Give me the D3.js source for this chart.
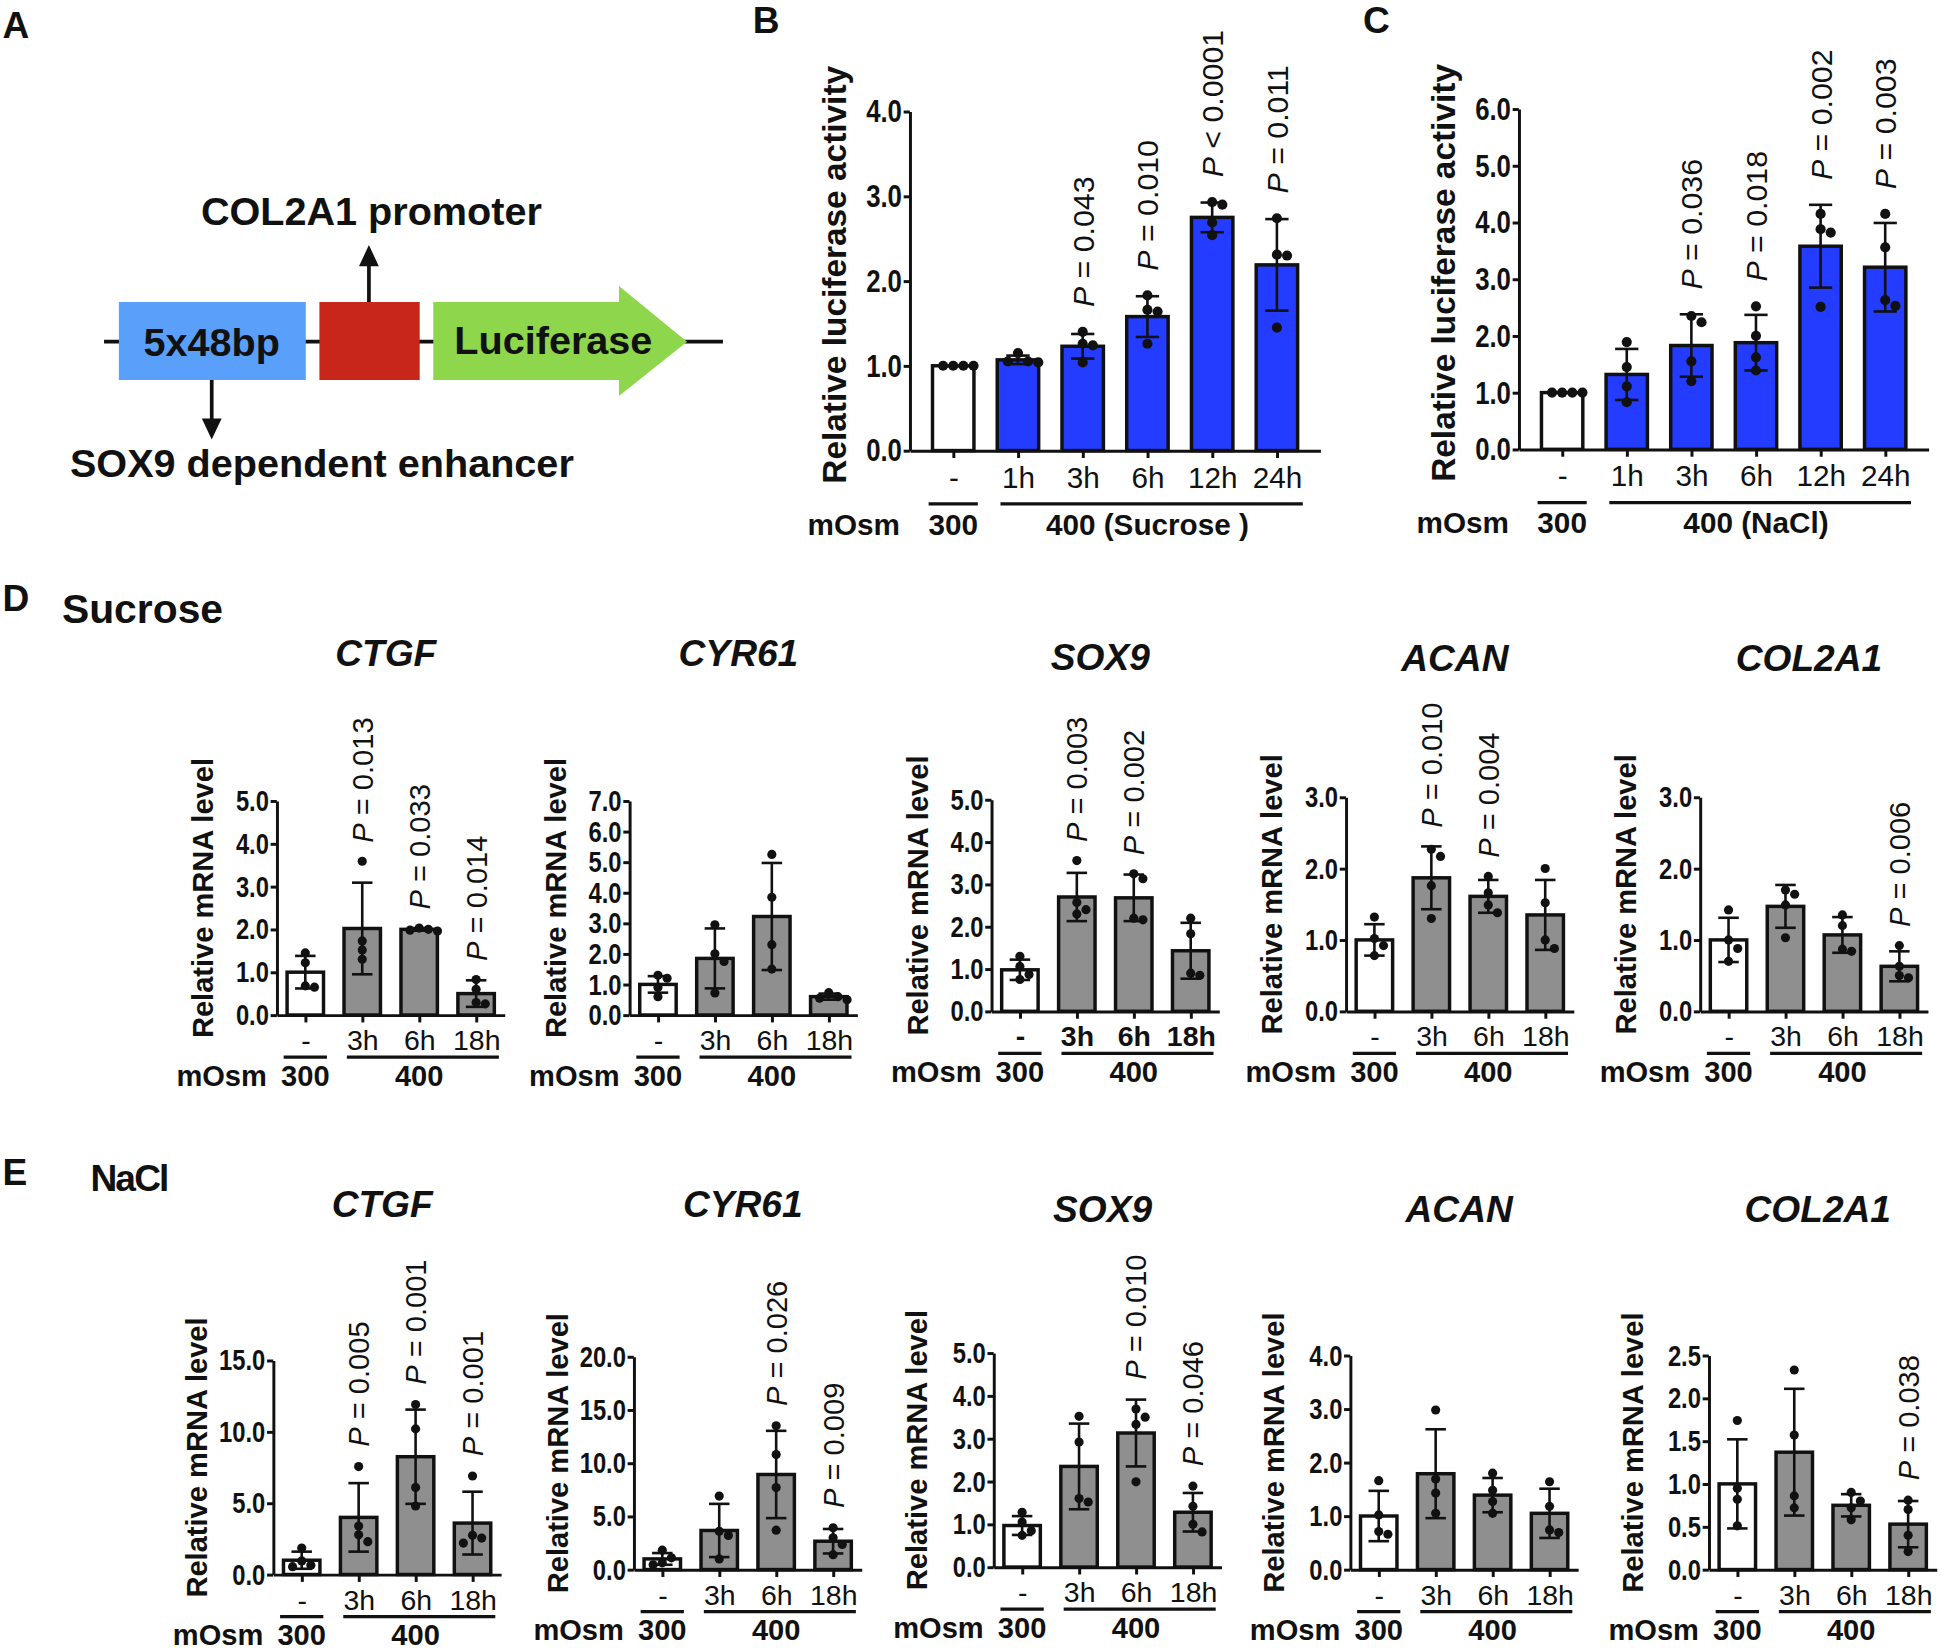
<!DOCTYPE html>
<html>
<head>
<meta charset="utf-8">
<script src="https://cdn.jsdelivr.net/npm/d3@7"></script>
<style>
  body { margin: 0; background: #fff; }
  svg { display: block; font-family: "Liberation Sans", Arial, Helvetica, sans-serif; }
</style>
</head>
<body>
<svg id="fig" width="1941" height="1650" viewBox="0 0 1568 1333"></svg>
<script>
// ---- categories ----
var catsLuc = ["-", "1h", "3h", "6h", "12h", "24h"];
var catsGene = ["-", "3h", "6h", "18h"];
var genes = ["CTGF", "CYR61", "SOX9", "ACAN", "COL2A1"];

// ---- B: luciferase, 400 mOsm sucrose ----
var lucSucroseMean = [1.0, 1.07, 1.23, 1.58, 2.75, 2.19];
var lucSucroseSD = [0.0, 0.05, 0.145, 0.24, 0.175, 0.54];
var lucSucrosePts = [[1, 1, 1, 1], [1.15, 1.05, 1.05, 1.04], [1.40, 1.26, 1.24, 1.04],
                     [1.83, 1.66, 1.64, 1.26], [2.93, 2.90, 2.69, 2.54], [2.74, 2.31, 2.30, 1.45]];
var lucSucroseP = [null, null, "= 0.043", "= 0.010", "< 0.0001", "= 0.011"];
var lucSucroseTicks = [0, 1, 2, 3, 4];

// ---- C: luciferase, 400 mOsm NaCl ----
var lucNaClMean = [1.0, 1.32, 1.83, 1.88, 3.58, 3.21];
var lucNaClSD = [0.0, 0.45, 0.55, 0.49, 0.73, 0.78];
var lucNaClPts = [[1, 1, 1, 1], [1.89, 1.45, 1.11, 0.83], [2.35, 2.24, 1.55, 1.20],
                  [2.52, 2.00, 1.62, 1.39], [4.15, 3.88, 3.82, 2.51], [4.15, 3.56, 2.63, 2.53]];
var lucNaClP = [null, null, "= 0.036", "= 0.018", "= 0.002", "= 0.003"];
var lucNaClTicks = [0, 1, 2, 3, 4, 5, 6];

// ---- D: sucrose mRNA ----
var sucCTGFMean = [1.0, 2.02, 2.0, 0.5];
var sucCTGFSD = [0.38, 1.07, 0.03, 0.31];
var sucCTGFPts = [[1.45, 1.22, 0.68, 0.65], [3.59, 1.73, 1.52, 1.30], [2.03, 2.0, 1.98, 1.96], [0.83, 0.60, 0.29, 0.26]];
var sucCTGFP = [null, "= 0.013", "= 0.033", "= 0.014"];
var sucCTGFTicks = [0, 1, 2, 3, 4, 5];

var sucCYR61Mean = [1.0, 1.85, 3.22, 0.6];
var sucCYR61SD = [0.27, 0.98, 1.75, 0.1];
var sucCYR61Pts = [[1.3, 1.2, 0.9, 0.6], [2.95, 2.0, 1.75, 0.72], [5.25, 3.85, 2.3, 1.5], [0.73, 0.6, 0.55, 0.5]];
var sucCYR61P = [null, null, null, null];
var sucCYR61Ticks = [0, 1, 2, 3, 4, 5, 6, 7];

var sucSOX9Mean = [0.98, 2.70, 2.68, 1.43];
var sucSOX9SD = [0.24, 0.57, 0.55, 0.66];
var sucSOX9Pts = [[1.3, 1.06, 0.87, 0.75], [3.56, 2.57, 2.4, 2.3], [3.25, 3.13, 2.2, 2.16], [2.2, 1.83, 0.9, 0.85]];
var sucSOX9P = [null, "= 0.003", "= 0.002", null];
var sucSOX9Ticks = [0, 1, 2, 3, 4, 5];

var sucACANMean = [1.0, 1.87, 1.61, 1.35];
var sucACANSD = [0.22, 0.44, 0.23, 0.49];
var sucACANPts = [[1.32, 1.02, 0.92, 0.78], [2.27, 2.17, 1.76, 1.30], [1.89, 1.66, 1.49, 1.38], [2.0, 1.52, 1.0, 0.88]];
var sucACANP = [null, "= 0.010", "= 0.004", null];
var sucACANTicks = [0, 1, 2, 3];

var sucCOL2A1Mean = [1.0, 1.47, 1.07, 0.63];
var sucCOL2A1SD = [0.31, 0.30, 0.25, 0.21];
var sucCOL2A1Pts = [[1.42, 1.0, 0.88, 0.7], [1.70, 1.64, 1.49, 1.03], [1.35, 1.2, 0.87, 0.84], [0.92, 0.63, 0.5, 0.47]];
var sucCOL2A1P = [null, null, null, "= 0.006"];
var sucCOL2A1Ticks = [0, 1, 2, 3];

// ---- E: NaCl mRNA ----
var naclCTGFMean = [1.0, 4.0, 8.25, 3.6];
var naclCTGFSD = [0.6, 2.4, 3.3, 2.2];
var naclCTGFPts = [[1.85, 0.95, 0.65, 0.55], [7.56, 3.4, 2.78, 2.3], [11.9, 10.2, 6.1, 4.8], [6.9, 2.75, 2.55, 2.2]];
var naclCTGFP = [null, "= 0.005", "= 0.001", "= 0.001"];
var naclCTGFTicks = [0, 5, 10, 15];

var naclCYR61Mean = [1.0, 3.67, 8.93, 2.66];
var naclCYR61SD = [0.55, 2.5, 4.1, 1.15];
var naclCYR61Pts = [[1.82, 1.1, 0.63, 0.45], [6.9, 3.6, 3.2, 1.0], [13.5, 10.8, 7.7, 3.7], [3.92, 2.98, 2.35, 1.4]];
var naclCYR61P = [null, null, "= 0.026", "= 0.009"];
var naclCYR61Ticks = [0, 5, 10, 15, 20];

var naclSOX9Mean = [0.97, 2.35, 3.13, 1.28];
var naclSOX9SD = [0.22, 1.0, 0.78, 0.45];
var naclSOX9Pts = [[1.28, 1.05, 0.85, 0.74], [3.52, 2.92, 1.6, 1.52], [3.69, 3.50, 3.33, 1.99], [1.89, 1.42, 1.0, 0.82]];
var naclSOX9P = [null, null, "= 0.010", "= 0.046"];
var naclSOX9Ticks = [0, 1, 2, 3, 4, 5];

var naclACANMean = [1.0, 1.79, 1.39, 1.05];
var naclACANSD = [0.47, 0.83, 0.32, 0.46];
var naclACANPts = [[1.66, 1.02, 0.71, 0.66], [2.98, 1.69, 1.43, 1.05], [1.8, 1.48, 1.27, 1.05], [1.64, 1.18, 0.74, 0.69]];
var naclACANP = [null, null, null, null];
var naclACANTicks = [0, 1, 2, 3, 4];

var naclCOL2A1Mean = [1.0, 1.37, 0.75, 0.53];
var naclCOL2A1SD = [0.52, 0.74, 0.13, 0.27];
var naclCOL2A1Pts = [[1.74, 0.95, 0.82, 0.51], [2.33, 1.57, 0.86, 0.72], [0.9, 0.8, 0.72, 0.58], [0.81, 0.7, 0.4, 0.21]];
var naclCOL2A1P = [null, null, null, "= 0.038"];
var naclCOL2A1Ticks = [0, 0.5, 1, 1.5, 2, 2.5];

var svg = d3.select("#fig");
var INK = "#111";
var BLUE = "#233cff", GREY = "#8f8f8f";

function swarm(vals, cx, y, r) {
    var placed = [];
    vals.slice().sort(function (a, b) { return b - a; }).forEach(function (v) {
        var py = y(v), px = cx, offs = [0, 1, -1, 2, -2, 3, -3];
        for (var k = 0; k < offs.length; k++) {
            px = cx + offs[k] * r * 2;
            var ok = placed.every(function (p) { return Math.hypot(p[0] - px, p[1] - py) >= r * 1.9; });
            if (ok) break;
        }
        placed.push([px, py]);
    });
    return placed;
}

function drawPanel(c) {
    var g = svg.append("g");
    var n = c.cats.length;
    var x = d3.scalePoint().domain(c.cats)
        .range([c.ax, c.ax + c.step * (n - 1 + 2 * c.pad)]).padding(c.pad);
    var xEnd = x.range()[1];
    var y = d3.scaleLinear().domain([0, c.ticks[c.ticks.length - 1]]).range([c.y0, c.y1]);
    var bw = c.step * 0.64, cap = c.step * 0.36;

    var rows = c.mean.map(function (m, i) {
        return { cat: c.cats[i], mean: m, sd: c.sd[i], pts: c.pts[i], p: c.pv[i], i: i };
    });

    g.selectAll(".bar").data(rows).join("rect")
        .attr("x", function (d) { return x(d.cat) - bw / 2; })
        .attr("y", function (d) { return y(d.mean); })
        .attr("width", bw)
        .attr("height", function (d) { return y(0) - y(d.mean); })
        .attr("fill", function (d) { return d.i === 0 ? "#fff" : c.fill; })
        .attr("stroke", INK).attr("stroke-width", 2.8);

    var eb = g.selectAll(".err").data(rows).join("g")
        .attr("stroke", INK).attr("stroke-width", 2.1);
    eb.append("line")
        .attr("x1", function (d) { return x(d.cat); }).attr("x2", function (d) { return x(d.cat); })
        .attr("y1", function (d) { return y(d.mean + d.sd); }).attr("y2", function (d) { return y(d.mean - d.sd); });
    [1, -1].forEach(function (s) {
        eb.append("line")
            .attr("x1", function (d) { return x(d.cat) - cap / 2; }).attr("x2", function (d) { return x(d.cat) + cap / 2; })
            .attr("y1", function (d) { return y(d.mean + s * d.sd); }).attr("y2", function (d) { return y(d.mean + s * d.sd); });
    });

    rows.forEach(function (d) {
        g.append("g").selectAll("circle").data(swarm(d.pts, x(d.cat), y, c.r)).join("circle")
            .attr("cx", function (p) { return p[0]; }).attr("cy", function (p) { return p[1]; })
            .attr("r", c.r).attr("fill", INK);
    });

    // axes
    var ya = g.append("g").attr("transform", "translate(" + c.ax + ",0)")
        .call(d3.axisLeft(y).tickValues(c.ticks).tickFormat(d3.format(".1f"))
            .tickSize(5).tickSizeOuter(0).tickPadding(3));
    ya.attr("font-family", null).attr("font-size", null);
    ya.selectAll("path, line").attr("stroke", INK).attr("stroke-width", 2.4);
    // labels in the original are a narrow bold face
    ya.selectAll("text").attr("font-size", c.tickFs).attr("font-weight", "bold").attr("fill", INK)
        .attr("transform", "scale(0.8,1)");

    var xa = g.append("g").attr("transform", "translate(0," + c.y0 + ")")
        .call(d3.axisBottom(x).tickSize(6).tickSizeOuter(0).tickPadding(c.catPad));
    xa.attr("font-family", null).attr("font-size", null);
    xa.selectAll("path, line").attr("stroke", INK).attr("stroke-width", 2.4);
    xa.selectAll("text").attr("font-size", c.catFs)
        .attr("font-weight", c.catBold ? "bold" : "normal").attr("fill", INK);

    // y title
    g.append("text")
        .attr("transform", "translate(" + (c.ax - c.ylabOff) + "," + ((c.y0 + c.y1) / 2 + c.ylabDy) + ") rotate(-90)")
        .attr("text-anchor", "middle").attr("dy", "0.36em")
        .attr("font-weight", "bold").attr("font-size", c.ylabFs).attr("fill", INK)
        .text("Relative " + c.ylab);

    // P values
    g.selectAll(".pv").data(rows.filter(function (d) { return d.p; })).join("text")
        .attr("transform", function (d) {
            var top = Math.max(d.mean + d.sd, d3.max(d.pts));
            return "translate(" + x(d.cat) + "," + (y(top) - c.pGap) + ") rotate(-90)";
        })
        .attr("dy", "0.36em").attr("font-size", c.pFs).attr("fill", INK)
        .each(function (d) {
            var t = d3.select(this);
            t.append("tspan").attr("font-style", "italic").text("P");
            t.append("tspan").text(" " + d.p);
        });

    // treatment rows
    var uy = c.y0 + c.ulOff;
    var ul = g.append("g").attr("stroke", INK).attr("stroke-width", 2.6);
    ul.append("line").attr("x1", x(c.cats[0]) - c.step * 0.38).attr("x2", x(c.cats[0]) + c.step * 0.38)
        .attr("y1", uy).attr("y2", uy);
    ul.append("line").attr("x1", x(c.cats[1]) - c.step * 0.27).attr("x2", x(c.cats[n - 1]) + c.step * 0.4)
        .attr("y1", uy).attr("y2", uy);

    var my = c.y0 + c.mOff;
    var lab = g.append("g").attr("font-weight", "bold").attr("font-size", c.mFs).attr("fill", INK);
    lab.append("text").attr("x", c.ax - 8).attr("y", my).attr("text-anchor", "end").text("mOsm");
    lab.append("text").attr("x", x(c.cats[0])).attr("y", my).attr("text-anchor", "middle").text("300");
    lab.append("text").attr("x", (x(c.cats[1]) + x(c.cats[n - 1])) / 2).attr("y", my)
        .attr("text-anchor", "middle").text(c.group);

    if (c.title) {
        g.append("text").attr("x", (c.ax + xEnd) / 2 - 4).attr("y", c.titleY)
            .attr("text-anchor", "middle").attr("font-weight", "bold").attr("font-style", "italic")
            .attr("font-size", 30).attr("fill", INK).text(c.title);
    }
}

// ---- panel letters and section headings ----
var heads = svg.append("g").attr("font-weight", "bold").attr("fill", INK);
heads.append("text").attr("x", 2).attr("y", 31).attr("font-size", 30).text("A");
heads.append("text").attr("x", 608).attr("y", 27).attr("font-size", 30).text("B");
heads.append("text").attr("x", 1101).attr("y", 27).attr("font-size", 30).text("C");
heads.append("text").attr("x", 2).attr("y", 494).attr("font-size", 30).text("D");
heads.append("text").attr("x", 2).attr("y", 957).attr("font-size", 30).text("E");
heads.append("text").attr("x", 50).attr("y", 503).attr("font-size", 33).text("Sucrose");
heads.append("text").attr("x", 73).attr("y", 962).attr("font-size", 30)
    .attr("letter-spacing", -1.5).text("NaCl");

// ---- A: construct diagram ----
var gA = svg.append("g");
gA.append("line").attr("x1", 84).attr("x2", 584).attr("y1", 276).attr("y2", 276)
    .attr("stroke", INK).attr("stroke-width", 3);
gA.append("rect").attr("x", 96).attr("y", 244).attr("width", 151).attr("height", 63).attr("fill", "#5aa0fa");
gA.append("rect").attr("x", 258).attr("y", 244).attr("width", 81).attr("height", 63).attr("fill", "#c8261a");
gA.append("polygon")
    .attr("points", "350,244 500,244 500,231 555,276 500,320 500,307 350,307")
    .attr("fill", "#8ed64b");
gA.append("line").attr("x1", 298).attr("x2", 298).attr("y1", 244).attr("y2", 212)
    .attr("stroke", INK).attr("stroke-width", 3);
gA.append("path").attr("d", "M298,198 L306,215 L290,215 Z").attr("fill", INK);
gA.append("line").attr("x1", 171).attr("x2", 171).attr("y1", 307).attr("y2", 340)
    .attr("stroke", INK).attr("stroke-width", 3);
gA.append("path").attr("d", "M171,355 L179,338 L163,338 Z").attr("fill", INK);
var tA = gA.append("g").attr("font-weight", "bold").attr("font-size", 32).attr("fill", INK)
    .attr("text-anchor", "middle");
tA.append("text").attr("x", 300).attr("y", 182).text("COL2A1 promoter");
tA.append("text").attr("x", 171).attr("y", 288).text("5x48bp");
tA.append("text").attr("x", 447).attr("y", 286).text("Luciferase");
tA.append("text").attr("x", 260).attr("y", 385).text("SOX9 dependent enhancer");

// ---- B and C ----
var lucBase = {
    cats: catsLuc, step: 52.3, pad: 0.67, fill: BLUE, r: 4.1,
    tickFs: 26, catFs: 24, catPad: 7, catBold: false,
    ylab: "luciferase activity", ylabOff: 61, ylabDy: -5, ylabFs: 27,
    pFs: 24.5, pGap: 20, ulOff: 43, mOff: 68, mFs: 24
};
drawPanel(Object.assign({}, lucBase, {
    ax: 735, y0: 364, y1: 90, ticks: lucSucroseTicks,
    mean: lucSucroseMean, sd: lucSucroseSD, pts: lucSucrosePts, pv: lucSucroseP,
    group: "400 (Sucrose )"
}));
drawPanel(Object.assign({}, lucBase, {
    ax: 1227, y0: 363, y1: 88, step: 52.2, ticks: lucNaClTicks,
    mean: lucNaClMean, sd: lucNaClSD, pts: lucNaClPts, pv: lucNaClP,
    group: "400 (NaCl)"
}));

// ---- D and E ----
var geneBase = {
    cats: catsGene, step: 46, pad: 0.5, fill: GREY, r: 3.7,
    tickFs: 24, catFs: 23, catPad: 6, catBold: false,
    ylab: "mRNA level", ylabOff: 60, ylabDy: -8, ylabFs: 23.5,
    pFs: 23.5, pGap: 15, ulOff: 34, mOff: 57, mFs: 23.5, group: "400"
};
var sucData = [
    [sucCTGFMean, sucCTGFSD, sucCTGFPts, sucCTGFP, sucCTGFTicks],
    [sucCYR61Mean, sucCYR61SD, sucCYR61Pts, sucCYR61P, sucCYR61Ticks],
    [sucSOX9Mean, sucSOX9SD, sucSOX9Pts, sucSOX9P, sucSOX9Ticks],
    [sucACANMean, sucACANSD, sucACANPts, sucACANP, sucACANTicks],
    [sucCOL2A1Mean, sucCOL2A1SD, sucCOL2A1Pts, sucCOL2A1P, sucCOL2A1Ticks]
];
var naclData = [
    [naclCTGFMean, naclCTGFSD, naclCTGFPts, naclCTGFP, naclCTGFTicks],
    [naclCYR61Mean, naclCYR61SD, naclCYR61Pts, naclCYR61P, naclCYR61Ticks],
    [naclSOX9Mean, naclSOX9SD, naclSOX9Pts, naclSOX9P, naclSOX9Ticks],
    [naclACANMean, naclACANSD, naclACANPts, naclACANP, naclACANTicks],
    [naclCOL2A1Mean, naclCOL2A1SD, naclCOL2A1Pts, naclCOL2A1P, naclCOL2A1Ticks]
];
var dAx = [223.6, 508.5, 800.9, 1087.3, 1373.4];
var dY = [[820, 647], [820, 647], [817, 646], [817, 644], [817, 644]];
var dTitleY = [538, 538, 541, 542, 542];
var eAx = [220.7, 512, 802.7, 1090.8, 1380.5];
var eY = [[1272, 1099], [1268, 1096], [1266, 1093], [1268, 1095], [1268, 1095]];
var eTitleY = [983, 983, 987, 987, 987];

genes.forEach(function (gene, i) {
    var d = sucData[i];
    drawPanel(Object.assign({}, geneBase, {
        ax: dAx[i], y0: dY[i][0], y1: dY[i][1], ticks: d[4],
        mean: d[0], sd: d[1], pts: d[2], pv: d[3],
        title: gene, titleY: dTitleY[i], catBold: gene === "SOX9"
    }));
    var e = naclData[i];
    drawPanel(Object.assign({}, geneBase, {
        ax: eAx[i], y0: eY[i][0], y1: eY[i][1], ticks: e[4],
        mean: e[0], sd: e[1], pts: e[2], pv: e[3],
        title: gene, titleY: eTitleY[i], pGap: 16, ylabOff: 62
    }));
});
</script>
</body>
</html>
